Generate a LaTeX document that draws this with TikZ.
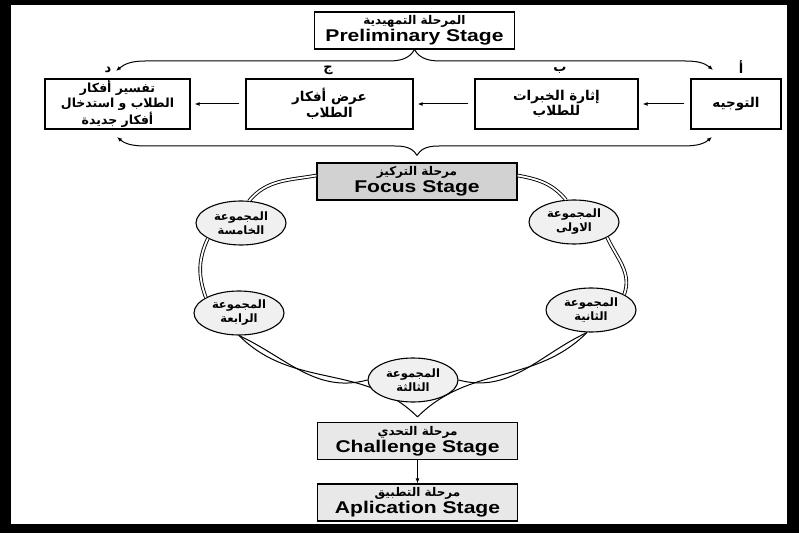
\documentclass[tikz,border=0pt]{standalone}
\usepackage{fontspec}
\setmainfont{Liberation Sans}[FakeStretch=1.24]
\newfontfamily\arabicfont[Script=Arabic]{DejaVu Sans}
\TeXXeTstate=1
\usetikzlibrary{shapes.geometric,arrows.meta}
\pgfdeclarelayer{back}
\pgfsetlayers{back,main}

\newcommand{\artxt}[1]{{\arabicfont\bfseries\beginR #1\endR}}
\newcommand{\entxt}[1]{{\fontsize{17}{18}\selectfont\bfseries #1}}

\begin{document}
\begin{tikzpicture}[x=1pt, y=1pt, font=\small]
\tikzstyle{stage} = [rectangle, draw, line width=1.2pt, minimum width=200, minimum height=37, inner sep=0pt, align=center, font=\fontsize{12}{12}\selectfont]
\tikzstyle{stepbox} = [rectangle, draw, line width=1.2pt, minimum height=50, align=center, font=\fontsize{13.5}{15.5}\selectfont]
\tikzstyle{group} = [ellipse, draw, line width=1.1pt, fill=gray!12, minimum width=90, minimum height=44, inner sep=0pt, align=center, font=\fontsize{11.5}{14}\selectfont]
\tikzstyle{letter} = [font=\fontsize{13}{14}\selectfont, inner sep=0pt]
\tikzstyle{link} = [line width=1pt, -{Latex[length=5pt,width=4pt]}]
\tikzstyle{ring} = [draw, line width=.9pt, double, double distance=1.8pt]
\tikzstyle{line} = [line width=1pt]

\useasboundingbox (0,0) rectangle (799,533);
\begin{pgfonlayer}{back}
\fill[black] (0,0) rectangle (799,533);
\fill[white] (11,9) rectangle (787,528);
\end{pgfonlayer}

% stages
\node[stage] (prelim) at (414.5,502.5) {\artxt{المرحلة التمهيدية}\\[1pt]\entxt{Preliminary Stage}};
\node[stage, fill=gray!35] (focus) at (417,351.5) {\artxt{مرحلة التركيز}\\[1pt]\entxt{Focus Stage}};
\node[stage, fill=gray!18] (challenge) at (417.5,92) {\artxt{مرحلة التحدي}\\[1pt]\entxt{Challenge Stage}};
\node[stage, fill=gray!18] (app) at (417.5,30.5) {\artxt{مرحلة التطبيق}\\[1pt]\entxt{Aplication Stage}};

% steps of the preliminary stage
\node[stepbox, minimum width=90] (a) at (736,429) {\artxt{التوجيه}};
\node[stepbox, minimum width=163] (b) at (556.5,429) {\artxt{إثارة الخبرات}\\\artxt{للطلاب}};
\node[stepbox, minimum width=167] (c) at (329.5,429) {\artxt{عرض أفكار}\\\artxt{الطلاب}};
\node[stepbox, minimum width=145, inner sep=1pt, font=\fontsize{12.5}{15}\selectfont] (d) at (117.5,429) {\artxt{تفسير أفكار}\\\artxt{الطلاب و استدخال}\\\artxt{أفكار جديدة}};
\node[letter] (la) at (741,466) {\artxt{أ}};
\node[letter] (lb) at (560,463) {\artxt{ب}};
\node[letter] (lc) at (328,463) {\artxt{ج}};
\node[letter] (ld) at (108,463) {\artxt{د}};

\draw[link] (a.west) -- (b.east) [shorten <=6pt, shorten >=4pt];
\draw[link] (b.west) -- (c.east) [shorten <=6pt, shorten >=4pt];
\draw[link] (c.west) -- (d.east) [shorten <=6pt, shorten >=4pt];

% braces
\coordinate (atip) at (713,463);
\coordinate (dtip) at (116,462);
\coordinate (abot) at (712,396);
\coordinate (dbot) at (117,396);
\draw[link] (prelim.south) to[out=-120,in=0] (388,472) -- (145,472) to[out=180,in=40] (dtip);
\draw[link] (prelim.south) to[out=-60,in=180] (441,472) -- (685,472) to[out=0,in=140] (atip);
\draw[link] ([yshift=7pt]focus.north) to[out=120,in=0] (388,387) -- (148,387) to[out=180,in=-40] (dbot);
\draw[link] ([yshift=7pt]focus.north) to[out=60,in=180] (446,387) -- (681,387) to[out=0,in=-140] (abot);

% groups round the focus stage
\node[group] (g1) at (574,311) {\artxt{المجموعة}\\\artxt{الاولى}};
\node[group] (g2) at (591,223) {\artxt{المجموعة}\\\artxt{الثانية}};
\node[group] (g3) at (413,153) {\artxt{المجموعة}\\\artxt{الثالثة}};
\node[group] (g4) at (239,220) {\artxt{المجموعة}\\\artxt{الرابعة}};
\node[group] (g5) at (241,310) {\artxt{المجموعة}\\\artxt{الخامسة}};
\coordinate (vtip) at ([yshift=5pt]challenge.north);

\draw[ring] ([yshift=6pt]focus.west) to[out=190,in=50] (g5.70);
\draw[ring] ([yshift=6pt]focus.east) to[out=-10,in=130] (g1.110);
\draw[ring] (g5.205) to[out=245,in=110] (g4.155);
\draw[ring] (g1.-25) to[out=-65,in=70] (g2.25);
\begin{pgfonlayer}{back}
\draw[line] (g4.south) to[out=-25,in=195] (g3.west);
\draw[line] (g4.south) to[out=-45,in=135] (vtip);
\draw[line] (g2.-100) to[out=205,in=-15] (g3.east);
\draw[line] (g2.-100) to[out=225,in=45] (vtip);
\end{pgfonlayer}

\draw[link] (challenge.south) -- (app.north);
\end{tikzpicture}
\end{document}
